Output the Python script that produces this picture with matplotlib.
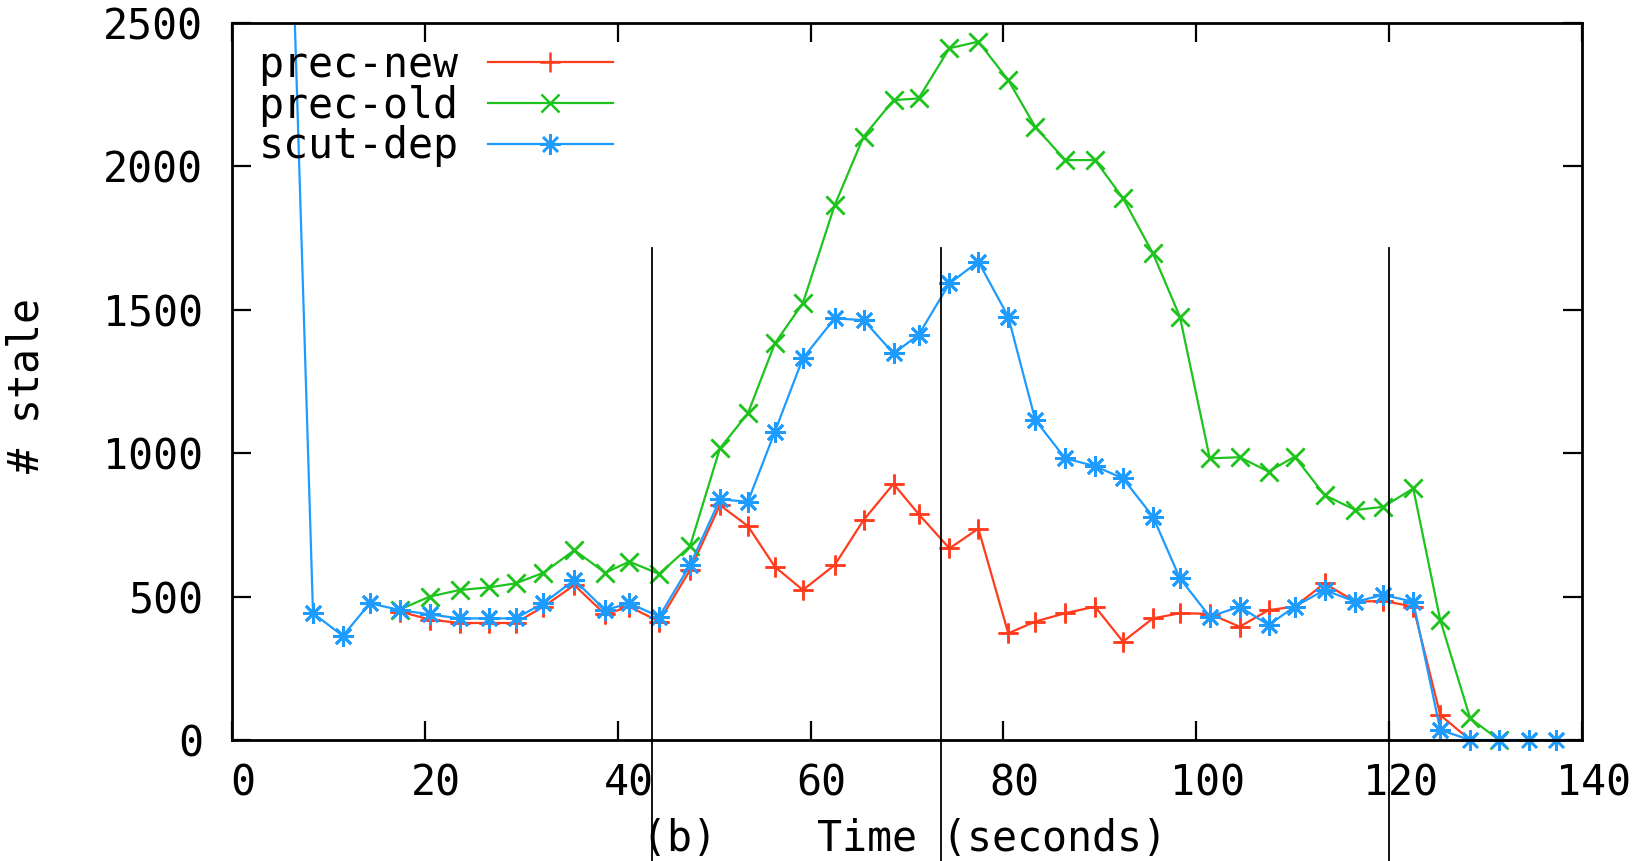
import matplotlib
matplotlib.use('Agg')
import matplotlib.pyplot as plt
import matplotlib.transforms as mtransforms

# time stamps (seconds) shared by the three runs
time_all = [5.4, 8.4, 11.5, 14.3, 17.4, 20.5, 23.6, 26.6, 29.4, 32.3, 35.5, 38.7,
            41.2, 44.3, 47.5, 50.6, 53.5, 56.3, 59.2, 62.5, 65.5, 68.6, 71.2,
            74.4, 77.4, 80.5, 83.3, 86.4, 89.5, 92.4, 95.5, 98.3, 101.4, 104.5,
            107.5, 110.2, 113.3, 116.5, 119.4, 122.5, 125.3, 128.4, 131.4,
            134.5, 137.3]

scut_dep = [3720, 442, 363, 477, 453, 438, 424, 424, 424, 477, 558, 453, 477,
            430, 610, 839, 831, 1075, 1331, 1470, 1464, 1348, 1412, 1592, 1668,
            1476, 1116, 982, 955, 912, 779, 564, 430, 465, 401, 465, 523, 482,
            506, 482, 35, 0, 0, 0, 0]

prec_new = [448, 420, 408, 408, 408, 465, 540, 438, 465, 413, 593, 819, 746,
            604, 523, 610, 767, 893, 788, 668, 737, 372, 413, 442, 465, 343,
            424, 442, 440, 395, 453, 465, 546, 482, 485, 465, 87, 0]

prec_old = [455, 500, 523, 532, 546, 583, 662, 583, 622, 579, 676, 1017, 1139,
            1383, 1523, 1865, 2104, 2231, 2237, 2412, 2435, 2301, 2138, 2022,
            2022, 1889, 1697, 1476, 982, 986, 936, 988, 854, 802, 813, 877, 418,
            76, 0]

time_new = time_all[4:4 + len(prec_new)]
time_old = time_all[4:4 + len(prec_old)]

# phase markers (seconds)
phase_x = [43.6, 73.5, 120.0]

red = '#ff3c1e'
green = '#1ec31e'
blue = '#1e9bff'

plt.rcParams['font.family'] = ['DejaVu Sans Mono']
fs = 30

fig = plt.figure(figsize=(16.41, 8.61), dpi=100)
ax = fig.add_axes([232 / 1641, 121 / 861, 1350 / 1641, 717 / 861])

series = [
    (time_new, prec_new, red, '+', 'prec-new', 14),
    (time_old, prec_old, green, 'x', 'prec-old', 13),
    (time_all, scut_dep, blue, (8, 2, 0), 'scut-dep', 15),
]
for xs, ys, col, mk, lab, ms in series:
    ax.plot(xs, ys, color=col, lw=1.6, marker=mk, ms=ms, mew=1.8, label=lab)
    # markers sitting on the axis are not clipped in the original
    px = [x for x, y in zip(xs, ys) if y <= 2500]
    py = [y for y in ys if y <= 2500]
    ax.plot(px, py, ls='none', color=col, marker=mk, ms=ms, mew=1.8, clip_on=False)

for x in phase_x:
    ax.plot([x, x], [1716, -600], color='black', lw=1.3, clip_on=False, zorder=5)

ax.set_xlim(0, 140)
ax.set_ylim(0, 2500)
ax.set_xticks(range(0, 141, 20))
ax.set_yticks(range(0, 2501, 500))
ax.tick_params(direction='in', length=14, width=1.6, top=True, right=True,
               labelsize=fs)
ax.tick_params(axis='x', pad=16)
ax.tick_params(axis='y', pad=21)
for s in ax.spines.values():
    s.set_linewidth(2.0)

offset = mtransforms.ScaledTranslation(0.11, 0, fig.dpi_scale_trans)
for lbl in ax.get_xticklabels():
    lbl.set_transform(lbl.get_transform() + offset)

ax.set_xlabel('(b)    Time (seconds)', fontsize=fs)
ax.xaxis.set_label_coords(0.4985, -0.109)
ax.set_ylabel('# stale', fontsize=fs)
ax.yaxis.set_label_coords(-0.137, 0.495)

ax.legend(loc='upper left', bbox_to_anchor=(0.0196, 0.971), frameon=False,
          markerfirst=False, fontsize=fs, handlelength=3.0, handletextpad=0.7,
          labelspacing=-0.03, borderpad=0, borderaxespad=0)

plt.savefig('out.png', dpi=100)
plt.close(fig)
